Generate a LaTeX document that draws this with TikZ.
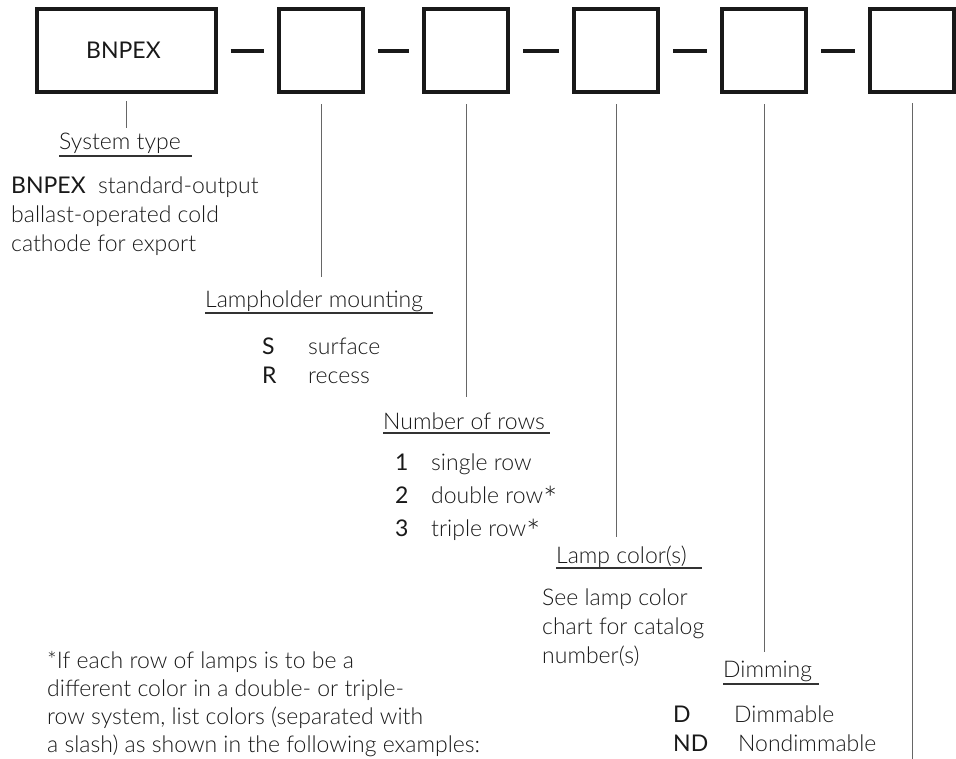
\documentclass[tikz,border=0pt]{standalone}
\usepackage{fontspec}
\setmainfont{Lato}[UprightFont={* Light},BoldFont={*}]
\newcommand\lblfont{\fontsize{23}{29}\selectfont}
\newcommand\bigstar{\raisebox{-8pt}{\fontsize{34}{34}\selectfont*}}

\begin{document}
\begin{tikzpicture}[x=1pt,y=-1pt,
  codebox/.style={draw=black!90,line width=4pt,minimum height=83pt,minimum width=84pt,inner sep=0pt},
  sep/.style={draw=black!90,line width=4pt,shorten <=13pt,shorten >=13pt},
  leader/.style={draw=black!60,line width=1pt},
  rule/.style={draw=black!80,line width=1.1pt},
  txt/.style={anchor=base west,inner sep=0pt,text=black!90,font=\lblfont,align=left}]
  \useasboundingbox (0,0) rectangle (956,759);

  % the six code boxes
  \node[codebox,minimum width=179pt] (b1) at (126,51) {};
  \node[codebox] (b2) at (321,51) {};
  \node[codebox] (b3) at (466,51) {};
  \node[codebox] (b4) at (616,51) {};
  \node[codebox] (b5) at (764,51) {};
  \node[codebox] (b6) at (912,51) {};
  \node[txt] (code) at (86,59) {\textbf{BNPEX}};

  \draw[sep] (b1.east) -- (b2.west);
  \draw[sep] (b2.east) -- (b3.west);
  \draw[sep] (b3.east) -- (b4.west);
  \draw[sep] (b4.east) -- (b5.west);
  \draw[sep] (b5.east) -- (b6.west);

  % leader lines
  \coordinate (e1) at (126,128);
  \coordinate (e2) at (321,277);
  \coordinate (e3) at (466,397);
  \coordinate (e4) at (616,537);
  \coordinate (e5) at (764,652);
  \coordinate (e6) at (912,759);
  \draw[leader] ([yshift=-7pt]b1.south) -- (e1);
  \draw[leader] ([yshift=-10pt]b2.south) -- (e2);
  \draw[leader] ([yshift=-10pt]b3.south) -- (e3);
  \draw[leader] ([yshift=-10pt]b4.south) -- (e4);
  \draw[leader] ([yshift=-10pt]b5.south) -- (e5);
  \draw[leader] ([yshift=-9pt]b6.south) -- (e6);

  % system type
  \node[txt] (h1) at (59,150) {System type};
  \draw[rule] ([yshift=-6pt]h1.base west) -- ++(133,0);
  \node[txt] (d1) at (11,252) {\textbf{BNPEX}\ \ standard-output\\ballast-operated cold\\cathode for export};

  % lampholder mounting
  \node[txt] (h2) at (205,308) {Lampholder mounting};
  \draw[rule] ([yshift=-5pt]h2.base west) -- ++(228,0);
  \node[txt] (s) at (262,355) {\textbf{S}};
  \node[txt] at (308,355) {surface};
  \node[txt] (r) at (262,384) {\textbf{R}};
  \node[txt] at (308,384) {recess};

  % number of rows
  \node[txt] (h3) at (383,429) {Number of rows};
  \draw[rule] ([yshift=-4pt]h3.base west) -- ++(167,0);
  \node[txt] (n1) at (395,470) {\textbf{1}};
  \node[txt] at (431,470) {single row};
  \node[txt] (n2) at (395,503) {\textbf{2}};
  \node[txt] at (431,503) {double row\bigstar};
  \node[txt] (n3) at (395,536) {\textbf{3}};
  \node[txt] at (431,536) {triple row\bigstar};

  % lamp colors
  \node[txt] (h4) at (556,563) {Lamp color(s)};
  \draw[rule] ([yshift=-5pt]h4.base west) -- ++(146,0);
  \node[txt] (d4) at (542,663) {See lamp color\\chart for catalog\\number(s)};

  % dimming
  \node[txt] (h5) at (723,677) {Dimming};
  \draw[rule] ([yshift=-7pt]h5.base west) -- ++(96,0);
  \node[txt] (d) at (673,722) {\textbf{D}};
  \node[txt] at (734,722) {Dimmable};
  \node[txt] (nd) at (673,751) {\textbf{ND}};
  \node[txt] at (738,751) {Nondimmable};

  % footnote
  \node[txt,font=\fontsize{23}{28}\selectfont] (fn) at (47,752) {*If each row of lamps is to be a\\different color in a double- or triple-\\row system, list colors (separated with\\a slash) as shown in the following examples:};
\end{tikzpicture}
\end{document}
